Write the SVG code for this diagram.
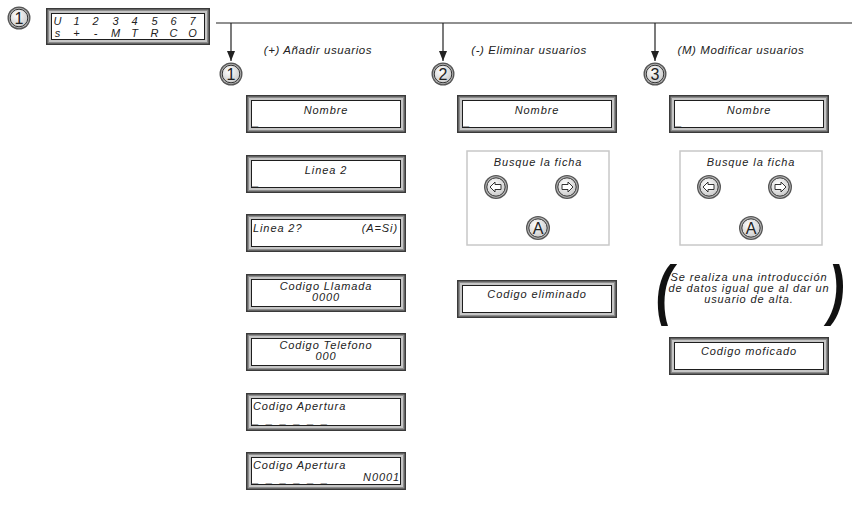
<svg xmlns="http://www.w3.org/2000/svg" xmlns:xlink="http://www.w3.org/1999/xlink" width="852" height="518" viewBox="0 0 852 518">
<style>
.t{font-family:"Liberation Sans",Arial,sans-serif;font-style:italic;font-size:11px;letter-spacing:0.9px;fill:#222}
.lbl{font-family:"Liberation Sans",Arial,sans-serif;font-style:italic;font-size:11.5px;letter-spacing:0.6px;fill:#222}
.num{font-family:"Liberation Sans",Arial,sans-serif;font-size:16px;fill:#222}
.cur{font-family:"Liberation Sans",Arial,sans-serif;font-size:11px;fill:#888}
.conn{stroke:#222;stroke-width:1.2;fill:none}
.panel{fill:#fff;stroke:#c8c8c8;stroke-width:1.5}
.par{font-family:"Liberation Sans",Arial,sans-serif;font-style:italic;font-weight:bold;font-size:66px;fill:#111}
</style>
<defs>
<radialGradient id="bg" cx="0.4" cy="0.35" r="0.7">
<stop offset="0" stop-color="#ffffff"/><stop offset="1" stop-color="#c9c9c9"/>
</radialGradient>
<marker id="ah" markerWidth="10" markerHeight="8" refX="10" refY="4" orient="auto" markerUnits="userSpaceOnUse" viewBox="0 0 10 8">
<path d="M0,0 L10,4 L0,8 Z" fill="#222"/>
</marker>
<g id="lcd">
<rect width="160" height="38" fill="#3a3a3a"/>
<rect x="1.5" y="1.5" width="157" height="35" fill="#8c8c8c"/>
<rect x="3" y="3" width="154" height="32" fill="#c6c6c6"/>
<rect x="5.5" y="5.5" width="149" height="27" fill="#fff" stroke="#1e1e1e" stroke-width="1"/>
</g>
<g id="ring">
<circle r="11.5" fill="#555"/>
<circle r="10.2" fill="#b5b5b5"/>
<circle r="8.8" fill="url(#bg)" stroke="#333" stroke-width="1"/>
</g>
<g id="btn">
<circle r="12" fill="#555"/>
<circle r="10.7" fill="#b8b8b8"/>
<circle r="9.2" fill="url(#bg)" stroke="#333" stroke-width="1"/>
</g>
<path id="la" d="M-6,0 L-1,-5 L-1,-2.5 L5,-2.5 L5,2.5 L-1,2.5 L-1,5 Z" fill="#fff" stroke="#333" stroke-width="1"/>
</defs>

<g id="connectors">
<path class="conn" d="M216,23 H852"/>
<path class="conn" d="M231,23 V61" marker-end="url(#ah)"/>
<path class="conn" d="M443,23 V61" marker-end="url(#ah)"/>
<path class="conn" d="M655,23 V61" marker-end="url(#ah)"/>
</g>

<g id="start-marker">
<use xlink:href="#ring" x="19" y="18"/>
<text class="num" x="19" y="24" text-anchor="middle">1</text>
</g>

<g id="main-lcd">
<rect x="46" y="8" width="164" height="37" fill="#3a3a3a"/>
<rect x="47.5" y="9.5" width="161" height="34" fill="#8c8c8c"/>
<rect x="49" y="11" width="158" height="31" fill="#c6c6c6"/>
<rect x="51.5" y="13.5" width="153" height="26" fill="#fff" stroke="#1e1e1e" stroke-width="1"/>
<text class="t" y="25" text-anchor="middle"><tspan x="58">U</tspan><tspan x="77">1</tspan><tspan x="96">2</tspan><tspan x="116">3</tspan><tspan x="135">4</tspan><tspan x="155">5</tspan><tspan x="174">6</tspan><tspan x="193">7</tspan></text>
<text class="t" y="37" text-anchor="middle"><tspan x="58">s</tspan><tspan x="77">+</tspan><tspan x="96">-</tspan><tspan x="116">M</tspan><tspan x="135">T</tspan><tspan x="155">R</tspan><tspan x="174">C</tspan><tspan x="193">O</tspan></text>
</g>

<g id="add-label">
<text class="lbl" x="318" y="54" text-anchor="middle">(+) Añadir usuarios</text>
<use xlink:href="#ring" x="231" y="74"/>
<text class="num" x="231" y="80" text-anchor="middle">1</text>
</g>
<g id="del-label">
<text class="lbl" x="529" y="54" text-anchor="middle">(-) Eliminar usuarios</text>
<use xlink:href="#ring" x="443" y="74"/>
<text class="num" x="443" y="80" text-anchor="middle">2</text>
</g>
<g id="mod-label">
<text class="lbl" x="741" y="54" text-anchor="middle">(M) Modificar usuarios</text>
<use xlink:href="#ring" x="655" y="74"/>
<text class="num" x="655" y="80" text-anchor="middle">3</text>
</g>

<g id="a1-nombre">
<use xlink:href="#lcd" x="246" y="95"/>
<text class="t" x="326" y="114" text-anchor="middle">Nombre</text>
<text class="cur" x="252" y="125">_</text>
</g>
<g id="a2-linea2">
<use xlink:href="#lcd" x="246" y="155"/>
<text class="t" x="326" y="174" text-anchor="middle">Linea 2</text>
<text class="cur" x="252" y="185">_</text>
</g>
<g id="a3-linea2q">
<use xlink:href="#lcd" x="246" y="214"/>
<text class="t" x="253" y="232">Linea 2?</text>
<text class="t" x="398" y="232" text-anchor="end">(A=Si)</text>
</g>
<g id="a4-llamada">
<use xlink:href="#lcd" x="246" y="274"/>
<text class="t" x="326" y="290" text-anchor="middle">Codigo Llamada</text>
<text class="t" x="326" y="301" text-anchor="middle">0000</text>
</g>
<g id="a5-telefono">
<use xlink:href="#lcd" x="246" y="333"/>
<text class="t" x="326" y="349" text-anchor="middle">Codigo Telefono</text>
<text class="t" x="326" y="360" text-anchor="middle">000</text>
</g>
<g id="a6-apertura">
<use xlink:href="#lcd" x="246" y="393"/>
<text class="t" x="253" y="410">Codigo Apertura</text>
<text class="cur" x="252" y="423" letter-spacing="2.3">_ _ _ _ _ _</text>
</g>
<g id="a7-apertura-n">
<use xlink:href="#lcd" x="246" y="452"/>
<text class="t" x="253" y="469">Codigo Apertura</text>
<text class="cur" x="252" y="482" letter-spacing="2.3">_ _ _ _ _ _</text>
<text class="t" x="400" y="481" text-anchor="end" letter-spacing="0.3">N0001</text>
</g>

<g id="d1-nombre">
<use xlink:href="#lcd" x="457" y="95"/>
<text class="t" x="537" y="114" text-anchor="middle">Nombre</text>
<text class="cur" x="463" y="125">_</text>
</g>
<g id="d2-busque">
<rect class="panel" x="467" y="151" width="142" height="94"/>
<text class="t" x="538" y="166" text-anchor="middle">Busque la ficha</text>
<use xlink:href="#btn" x="496" y="187"/>
<use xlink:href="#la" x="496" y="187"/>
<use xlink:href="#btn" x="567" y="187"/>
<use xlink:href="#la" transform="translate(567,187) scale(-1,1)"/>
<use xlink:href="#btn" x="538" y="228"/>
<text class="num" x="538" y="234" text-anchor="middle">A</text>
</g>
<g id="d3-eliminado">
<use xlink:href="#lcd" x="457" y="280"/>
<text class="t" x="537" y="298" text-anchor="middle">Codigo eliminado</text>
</g>

<g id="m1-nombre">
<use xlink:href="#lcd" x="669" y="95"/>
<text class="t" x="749" y="114" text-anchor="middle">Nombre</text>
<text class="cur" x="675" y="125">_</text>
</g>
<g id="m2-busque">
<rect class="panel" x="680" y="151" width="142" height="94"/>
<text class="t" x="751" y="166" text-anchor="middle">Busque la ficha</text>
<use xlink:href="#btn" x="709" y="187"/>
<use xlink:href="#la" x="709" y="187"/>
<use xlink:href="#btn" x="780" y="187"/>
<use xlink:href="#la" transform="translate(780,187) scale(-1,1)"/>
<use xlink:href="#btn" x="751" y="228"/>
<text class="num" x="751" y="234" text-anchor="middle">A</text>
</g>
<g id="m3-nota">
<text class="par" transform="translate(656,312) scale(0.75,1)">(</text>
<text class="par" transform="translate(828,312) scale(0.75,1)">)</text>
<text class="t" x="749" y="281" text-anchor="middle" font-size="10.5" letter-spacing="0.5">Se realiza una introducción</text>
<text class="t" x="749" y="292" text-anchor="middle" font-size="10.5" letter-spacing="0.5">de datos igual que al dar un</text>
<text class="t" x="749" y="303" text-anchor="middle" font-size="10.5" letter-spacing="0.5">usuario de alta.</text>
</g>
<g id="m4-modificado">
<use xlink:href="#lcd" x="669" y="337"/>
<text class="t" x="749" y="355" text-anchor="middle">Codigo moficado</text>
</g>
</svg>
